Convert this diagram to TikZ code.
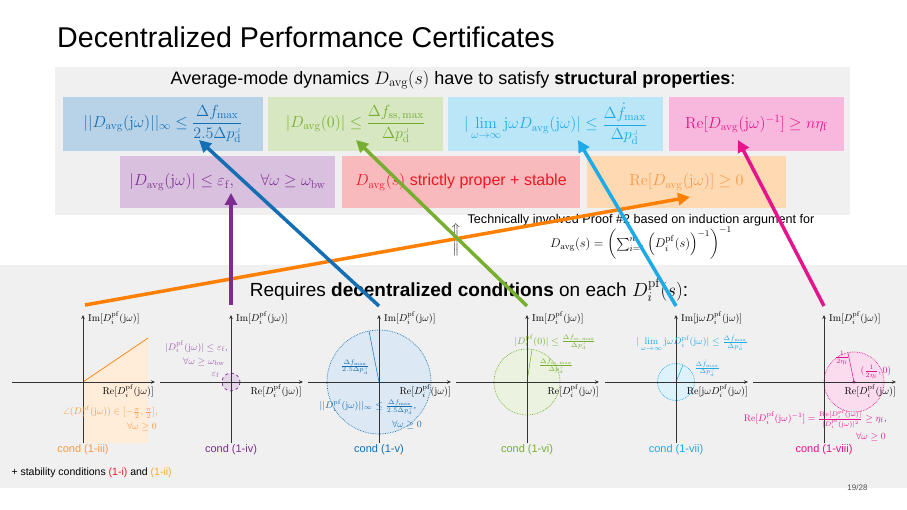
\RequirePackage{fix-cm}
\documentclass[tikz,border=0pt]{standalone}
\usepackage{amsmath,amssymb}
\usepackage[no-math]{fontspec}
\setmainfont{Liberation Sans}
\usetikzlibrary{arrows.meta}

\definecolor{cblue}{RGB}{20,110,180}
\definecolor{cgreen}{RGB}{120,175,50}
\definecolor{ccyan}{RGB}{30,170,230}
\definecolor{cmag}{RGB}{230,20,140}
\definecolor{cpurple}{RGB}{125,45,145}
\definecolor{cred}{RGB}{235,25,35}
\definecolor{corange}{RGB}{255,128,0}
\definecolor{ctorange}{RGB}{245,155,70}
\definecolor{cyellow}{RGB}{245,175,40}
\definecolor{bggray}{RGB}{240,240,240}

\newcommand{\setfs}[2]{\fontsize{#1}{#2}\selectfont}
\newcommand{\Davg}{D_{\mathrm{avg}}}
\newcommand{\Dpf}{D_i^{\mathrm{pf}}}
\newcommand{\dpd}{\Delta p^{\lrcorner}_{\mathrm{d}}}
\newcommand{\jw}{\mathrm{j}\omega}

\begin{document}
\begin{tikzpicture}[x=1pt, y=-1pt,
        propbox/.style={fill=#1!30, text=#1, inner sep=0pt, minimum height=54pt, font=\setfs{16}{19}},
        ax/.style={-{Stealth[length=4pt,width=3.5pt]}, line width=0.9pt, black!80},
        axlab/.style={font=\setfs{10}{12}, inner sep=1pt},
        condlab/.style={font=\setfs{11}{13}, inner sep=1pt},
        note/.style={font=\setfs{9.5}{12}, inner sep=1pt},
        region/.style={draw=#1, densely dotted, line width=0.7pt, fill=#1!15},
        bigarrow/.style={line width=3.5pt, draw=#1, -{Triangle[length=12pt,width=12pt]}},
    ]
    \useasboundingbox (0,0) rectangle (907,510);

    %Backgrounds
    \fill[bggray] (55,67) rectangle (850,215);
    \fill[bggray] (0,265) rectangle (907,488);

    %Title and headers
    \node[anchor=base west, font=\setfs{28.6}{32}, inner sep=0pt] (title) at (57,48) {Decentralized Performance Certificates};
    \node[font=\setfs{18}{21}] (avg) at (453,80) {Average-mode dynamics $\Davg(s)$ have to satisfy \textbf{structural properties}:};

    %Structural properties
    \node[propbox=cblue, minimum width=200pt] (binf) at (163,124) {$||\Davg(\jw)||_\infty \le \dfrac{\Delta f_{\max}}{2.5\dpd}$};
    \node[propbox=cgreen, minimum width=175pt] (bss) at (355.5,124) {$|\Davg(0)| \le \dfrac{\Delta f_{\mathrm{ss,\,max}}}{\dpd}$};
    \node[propbox=ccyan, minimum width=215pt] (brocof) at (555.5,124) {$|\lim\limits_{\omega\to\infty} \jw\Davg(\jw)| \le \dfrac{\Delta \dot f_{\max}}{\dpd}$};
    \node[propbox=cmag, minimum width=175pt] (bpass) at (756.5,124) {$\mathrm{Re}[\Davg(\jw)^{-1}] \ge n\eta_{\mathrm{f}}$};
    \node[propbox=cpurple, minimum width=215pt, minimum height=52pt] (bbw) at (227.5,182) {$|\Davg(\jw)| \le \varepsilon_{\mathrm{f}},\hspace{1.5em} \forall\omega\ge\omega_{\mathrm{bw}}$};
    \node[propbox=cred, minimum width=238pt, minimum height=52pt] (bstab) at (461,182) {$\Davg(s)$ strictly proper + stable};
    \node[propbox=corange, text=ctorange, minimum width=199pt, minimum height=52pt] (bpos) at (686.5,182) {$\mathrm{Re}[\Davg(\jw)] \ge 0$};

    %Proof note
    \node[font=\setfs{11}{13}] (uparr) at (456,240) {$\Bigg\Uparrow$};
    \node[font=\setfs{12.6}{17}, align=center] (proof) at (641,237) {Technically involved Proof \#2 based on induction argument for\\ $\Davg(s)=\left(\sum_{i=1}^{n}\left(\Dpf(s)\right)^{-1}\right)^{-1}$};
    \node[font=\setfs{19}{22}] (req) at (469,290) {Requires \textbf{decentralized conditions} on each $\Dpf(s)$:};

    %Regions
    \begin{scope}[shift={(83,382)}]
        \fill[corange!15] (0,0) -- (65,-44) -- (65,61) -- (0,61) -- cycle;
        \draw[corange, line width=0.7pt] (0,0) -- (65,-44);
    \end{scope}
    \draw[cpurple, dashed, fill=cpurple!20, line width=0.7pt] (231,382) circle (9);
    \draw[region=cblue] (379,382) circle (52);
    \draw[cblue, line width=0.5pt] (379,382) -- (369,331);
    \draw[region=cgreen] (527,382) circle (33);
    \draw[cgreen, line width=0.5pt] (527,382) -- (532,349.4);
    \draw[region=ccyan] (676,382) circle (18.5);
    \draw[ccyan, line width=0.5pt] (676,382) -- (683,365);
    \draw[region=cmag] (854,382) circle (30);
    \draw[cmag, line width=0.5pt] (854,382) -- (848,353);
    \fill[cmag] (854,382) circle (1.6);

    %Axes
    \foreach \ox in {83,231,379,527,676,824}{
        \draw[ax] (\ox-71,382) -- (\ox+72,382);
        \draw[ax] (\ox,443) -- (\ox,315);
    }

    %Panel (1-iii)
    \node[axlab, anchor=west] (imiii) at (87,318) {$\mathrm{Im}[\Dpf(\jw)]$};
    \node[axlab, anchor=east] (reiii) at (155,391) {$\mathrm{Re}[\Dpf(\jw)]$};
    \node[note, text=ctorange, anchor=east] (angiii) at (159,412) {$\angle(\Dpf(\jw)) \in [-\frac{\pi}{2},\frac{\pi}{2}]$,};
    \node[note, text=ctorange, anchor=east] (alliii) at (158,427) {$\forall\omega\ge0$};
    \node[condlab, text=ctorange] (condiii) at (83,450) {cond (1-iii)};

    %Panel (1-iv)
    \node[axlab, anchor=west] (imiv) at (235,318) {$\mathrm{Im}[\Dpf(\jw)]$};
    \node[axlab, anchor=east] (reiv) at (303,391) {$\mathrm{Re}[\Dpf(\jw)]$};
    \node[note, text=cpurple!75, anchor=east] (bwiv) at (229,347) {$|\Dpf(\jw)| \le \varepsilon_{\mathrm{f}}$,};
    \node[note, text=cpurple!75, anchor=east] (alliv) at (226,362) {$\forall\omega\ge\omega_{\mathrm{bw}}$};
    \node[note, text=cpurple!75, anchor=east] (epsiv) at (221,375) {$\varepsilon_{\mathrm{f}}$};
    \node[condlab, text=cpurple] (condiv) at (231,450) {cond (1-iv)};

    %Panel (1-v)
    \node[axlab, anchor=west] (imv) at (383,318) {$\mathrm{Im}[\Dpf(\jw)]$};
    \node[axlab, anchor=east] (rev) at (452,391) {$\mathrm{Re}[\Dpf(\jw)]$};
    \node[note, text=cblue] (radv) at (355,367) {$\frac{\Delta f_{\max}}{2.5\dpd}$};
    \node[note, text=cblue] (infv) at (368,407) {$||\Dpf(\jw)||_\infty \le \frac{\Delta f_{\max}}{2.5\dpd}$,};
    \node[note, text=cblue, anchor=east] (allv) at (423,425) {$\forall\omega\ge0$};
    \node[condlab, text=cblue] (condv) at (379,450) {cond (1-v)};

    %Panel (1-vi)
    \node[axlab, anchor=west] (imvi) at (531,318) {$\mathrm{Im}[\Dpf(\jw)]$};
    \node[axlab, anchor=east] (revi) at (600,391) {$\mathrm{Re}[\Dpf(\jw)]$};
    \node[note, text=cgreen] (radvi) at (556,366) {$\frac{\Delta f_{\mathrm{ss,\,max}}}{\dpd}$};
    \node[note, text=cgreen] (ssvi) at (555,342) {$|\Dpf(0)| \le \frac{\Delta f_{\mathrm{ss,\,max}}}{\dpd}$};
    \node[condlab, text=cgreen] (condvi) at (527,450) {cond (1-vi)};

    %Panel (1-vii)
    \node[axlab, anchor=west] (imvii) at (680,318) {$\mathrm{Im}[\jw\Dpf(\jw)]$};
    \node[axlab, anchor=east] (revii) at (749,391) {$\mathrm{Re}[\jw\Dpf(\jw)]$};
    \node[note, text=ccyan] (radvii) at (707,368) {$\frac{\Delta\dot f_{\max}}{\dpd}$};
    \node[note, text=ccyan] (limvii) at (692,343) {$|\lim\limits_{\omega\to\infty}\jw\Dpf(\jw)| \le \frac{\Delta\dot f_{\max}}{\dpd}$};
    \node[condlab, text=ccyan] (condvii) at (676,450) {cond (1-vii)};

    %Panel (1-viii)
    \node[axlab, anchor=west] (imviii) at (828,318) {$\mathrm{Im}[\Dpf(\jw)]$};
    \node[axlab, anchor=east] (reviii) at (897,391) {$\mathrm{Re}[\Dpf(\jw)]$};
    \node[note, text=cmag] (radviii) at (842,358) {$\frac{1}{2\eta_{\mathrm{f}}}$};
    \node[note, text=cmag] (cenviii) at (876,372) {$(\frac{1}{2\eta_{\mathrm{f}}},0)$};
    \node[note, text=cmag, anchor=east] (passviii) at (888,419) {$\mathrm{Re}[\Dpf(\jw)^{-1}] = \frac{\mathrm{Re}[\Dpf(\jw)]}{|\Dpf(\jw)|^2} \ge \eta_{\mathrm{f}}$,};
    \node[note, text=cmag, anchor=east] (allviii) at (887,437) {$\forall\omega\ge0$};
    \node[condlab, text=cmag] (condviii) at (824,450) {cond (1-viii)};

    %Footer
    \node[anchor=west, font=\setfs{10.5}{12}] (stab) at (8,473) {+ stability conditions \textcolor{cred}{(1-i)} and \textcolor{cyellow}{(1-ii)}};
    \node[anchor=east, font=\setfs{8}{10}, text=black!70] (page) at (871,488) {19/28};

    %Arrows
    \coordinate (siii) at (85,305);
    \coordinate (siv) at (231,305);
    \coordinate (sv) at (379,306);
    \coordinate (svi) at (527,306);
    \coordinate (svii) at (676,306);
    \coordinate (sviii) at (824,306);
    \coordinate (tpos) at (690,197);
    \coordinate (tbw) at (231,193);
    \coordinate (tinf) at (199,140);
    \coordinate (tss) at (356,140);
    \coordinate (trocof) at (578,140);
    \coordinate (tpass) at (738,140);
    \draw[bigarrow=corange] (siii) -- (tpos);
    \draw[bigarrow=cpurple] (siv) -- (tbw);
    \draw[bigarrow=cblue] (sv) -- (tinf);
    \draw[bigarrow=cgreen] (svi) -- (tss);
    \draw[bigarrow=ccyan] (svii) -- (trocof);
    \draw[bigarrow=cmag] (sviii) -- (tpass);
\end{tikzpicture}
\end{document}
